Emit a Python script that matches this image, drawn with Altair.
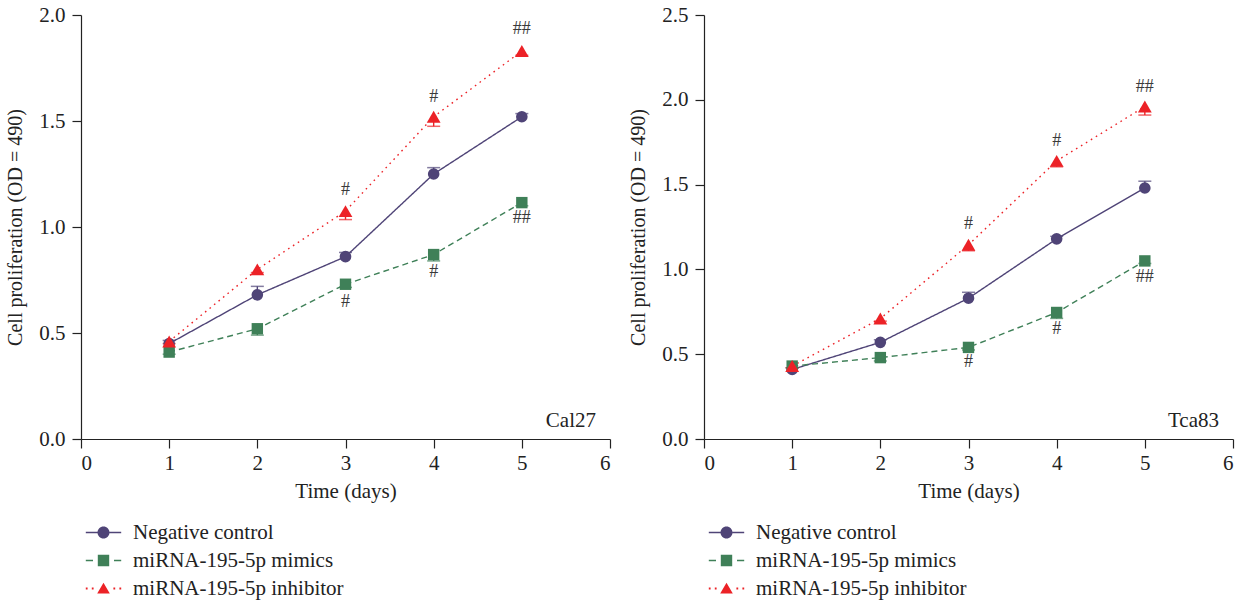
import altair as alt
import pandas as pd

# ---------------- data ----------------
days = [1, 2, 3, 4, 5]
series_names = ["Negative control", "miRNA-195-5p mimics", "miRNA-195-5p inhibitor"]

cal27_nc = [0.45, 0.68, 0.86, 1.25, 1.52]
cal27_mimics = [0.41, 0.52, 0.73, 0.87, 1.115]
cal27_inhibitor = [0.46, 0.80, 1.075, 1.52, 1.83]
cal27_nc_err = [0.015, 0.04, 0.02, 0.03, 0.015]
cal27_mimics_err = [0.01, 0.03, 0.015, 0.03, 0.015]
cal27_inhibitor_err = [0.01, 0.015, 0.04, 0.045, 0.02]

tca83_nc = [0.41, 0.57, 0.83, 1.18, 1.48]
tca83_mimics = [0.43, 0.48, 0.54, 0.746, 1.05]
tca83_inhibitor = [0.43, 0.71, 1.145, 1.64, 1.96]
tca83_nc_err = [0.01, 0.015, 0.035, 0.015, 0.04]
tca83_mimics_err = [0.01, 0.02, 0.015, 0.035, 0.015]
tca83_inhibitor_err = [0.01, 0.015, 0.035, 0.035, 0.05]

# significance marks (#) : day, height, text
mark_days = [3, 4, 5, 3, 4, 5]
mark_text = ["#", "#", "##", "#", "#", "##"]
cal27_mark_y = [1.175, 1.613, 1.932, 0.647, 0.786, 1.042]
tca83_mark_y = [1.27, 1.758, 2.078, 0.452, 0.648, 0.958]

cal27_ticks = [0.0, 0.5, 1.0, 1.5, 2.0]
tca83_ticks = [0.0, 0.5, 1.0, 1.5, 2.0, 2.5]
x_ticks = [0, 1, 2, 3, 4, 5, 6]

# ---------------- style ----------------
FONT = "Liberation Serif"
colors = ["#4f4477", "#3f8058", "#ec2227"]
dashes = [[1, 0], [6, 4], [1.6, 4.2]]
shapes = ["circle", "square", "triangle-up"]
sizes = [135, 130, 190]
err_dir = [1, -1, -1]

# legend symbols: line segment(s) + marker, filled paths (unit = 6px)
legend_paths = [
    "M-2.95,-0.12H-1V0.12H-2.95Z M1,-0.12H2.95V0.12H1Z "
    "M-1,0A1,1 0 1,0 1,0A1,1 0 1,0 -1,0Z",
    "M-2.95,-0.12H-1.75V0.12H-2.95Z M1.75,-0.12H2.95V0.12H1.75Z "
    "M-0.95,-0.95H0.95V0.95H-0.95Z",
    "M-2.95,-0.15H-2.65V0.15H-2.95Z M-1.95,-0.15H-1.65V0.15H-1.95Z "
    "M1.65,-0.15H1.95V0.15H1.65Z M2.65,-0.15H2.95V0.15H2.65Z "
    "M0,-0.95L1.05,0.85H-1.05Z",
]

W, H = 529, 424


def make_panel(vals, errs, ymax, ticks, mark_y, label):
    rows = []
    for s, v, e, d in zip(series_names, vals, errs, err_dir):
        for day, vv, ee in zip(days, v, e):
            rows.append({"series": s, "day": day, "value": vv, "end": vv + d * ee})
    df = pd.DataFrame(rows)
    base = alt.Chart(df)

    x = alt.X("day:Q", scale=alt.Scale(domain=[0, 6], nice=False, zero=False),
              axis=alt.Axis(values=x_ticks, format="d", title="Time (days)"))
    y = alt.Y("value:Q", scale=alt.Scale(domain=[0, ymax], nice=False),
              axis=alt.Axis(values=ticks, format=".1f",
                            title="Cell proliferation (OD = 490)"))

    layers = []
    for i, s in enumerate(series_names):
        sub = base.transform_filter(alt.datum.series == s)
        layers.append(sub.mark_line(color=colors[i], strokeDash=dashes[i],
                                    strokeWidth=1.4).encode(x=x, y=y))
        layers.append(sub.mark_rule(color=colors[i], strokeWidth=1.4).encode(
            x="day:Q", y="value:Q", y2="end:Q"))
        layers.append(sub.mark_tick(color=colors[i], orient="horizontal", size=13,
                                    thickness=1.5).encode(x="day:Q", y="end:Q"))
    for i, s in enumerate(series_names):
        sub = base.transform_filter(alt.datum.series == s)
        layers.append(sub.mark_point(shape=shapes[i], filled=True, size=sizes[i],
                                     color=colors[i], opacity=1).encode(x="day:Q", y="value:Q"))

    ann = pd.DataFrame({"day": mark_days, "value": mark_y, "label": mark_text})
    layers.append(alt.Chart(ann).mark_text(font=FONT, fontSize=18, color="#3a3a3a",
                                           baseline="middle").encode(
        x="day:Q", y="value:Q", text="label:N"))

    layers.append(alt.Chart(pd.DataFrame({"t": [label]})).mark_text(
        font=FONT, fontSize=21, color="#222", align="right", baseline="middle").encode(
        x=alt.value(W - 14), y=alt.value(H - 18), text="t:N"))

    leg_kwargs = dict(orient="none", legendX=12, legendY=507, direction="vertical",
                      title=None, labelFont=FONT, labelFontSize=21, labelColor="#222",
                      labelLimit=500, symbolSize=144, labelOffset=19, rowPadding=6,
                      symbolStrokeWidth=0)
    legend_layer = base.transform_filter("false").mark_point(
        filled=True, opacity=1, size=144).encode(
        x="day:Q", y="value:Q",
        color=alt.Color("series:N", scale=alt.Scale(domain=series_names, range=colors),
                        legend=alt.Legend(**leg_kwargs)),
        shape=alt.Shape("series:N", scale=alt.Scale(domain=series_names, range=legend_paths),
                        legend=alt.Legend(**leg_kwargs)),
    )
    layers.append(legend_layer)
    return alt.layer(*layers).properties(width=W, height=H)


left = make_panel([cal27_nc, cal27_mimics, cal27_inhibitor],
                  [cal27_nc_err, cal27_mimics_err, cal27_inhibitor_err],
                  2.0, cal27_ticks, cal27_mark_y, "Cal27")
right = make_panel([tca83_nc, tca83_mimics, tca83_inhibitor],
                   [tca83_nc_err, tca83_mimics_err, tca83_inhibitor_err],
                   2.5, tca83_ticks, tca83_mark_y, "Tca83")

chart = alt.hconcat(left, right, spacing=17).resolve_scale(
    color="independent", shape="independent"
).properties(
    padding={"left": 5, "top": 4, "right": 5, "bottom": 5},
    background="white",
).configure_view(stroke=None).configure_axis(
    labelFont=FONT, titleFont=FONT, labelFontSize=21, titleFontSize=21,
    titleFontWeight="normal", labelColor="#222", titleColor="#222",
    domainColor="#222", tickColor="#222", domainWidth=1.2, tickWidth=1.2,
    tickSize=9, grid=False,
).configure_axisY(labelPadding=7, titlePadding=13, titleFontSize=20).configure_axisX(
    labelPadding=4, titlePadding=7)

chart.save("out.html", embed_options={"renderer": "svg", "actions": False})
